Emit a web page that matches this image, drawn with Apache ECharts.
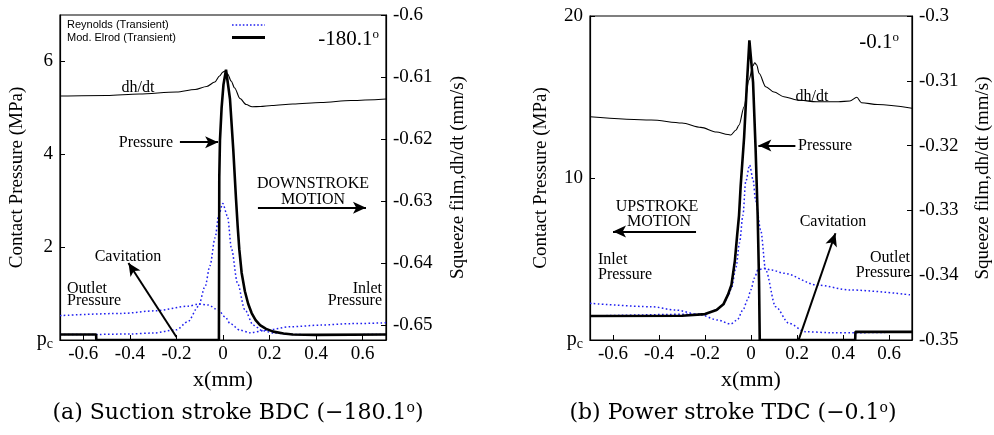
<!DOCTYPE html>
<html><head><meta charset="utf-8">
<script src="https://cdn.jsdelivr.net/npm/echarts@6/dist/echarts.min.js"></script>
<style>html,body{margin:0;padding:0;background:#fff}#c{width:994px;height:435px}</style>
</head><body><div id="c"></div>
<script>
// ---------- tick values ----------
const X_TICKS = [-0.6, -0.4, -0.2, 0, 0.2, 0.4, 0.6];
const BDC_P_TICKS = [0, 2, 4, 6];
const BDC_R_TICKS = [-0.6, -0.61, -0.62, -0.63, -0.64, -0.65];
const TDC_P_TICKS = [0, 10, 20];
const TDC_R_TICKS = [-0.3, -0.31, -0.32, -0.33, -0.34, -0.35];

// ---------- (a) Suction stroke BDC ----------
const bdcElrodPX = [-0.7, -0.545, -0.544, -0.0175, -0.016, -0.013, -0.006, 0.002, 0.013, 0.03, 0.044, 0.056, 0.063, 0.07, 0.08, 0.094, 0.108, 0.123, 0.14, 0.159, 0.185, 0.216, 0.26, 0.3, 0.4, 0.7];
const bdcElrodPY = [0.12, 0.12, 0, 0, 3.5, 4.3, 5.0, 5.5, 5.82, 5.19, 4.11, 3.03, 2.45, 1.95, 1.45, 1.05, 0.78, 0.58, 0.43, 0.32, 0.24, 0.18, 0.14, 0.12, 0.11, 0.12];
const bdcReyPX = [-0.7, -0.54, -0.4, -0.3, -0.2, -0.15, -0.106, -0.077, -0.056, -0.034, -0.018, -0.001, 0.019, 0.037, 0.062, 0.094, 0.13, 0.17, 0.22, 0.3, 0.4, 0.7];
const bdcReyPY = [0.12, 0.12, 0.13, 0.15, 0.22, 0.4, 0.72, 1.15, 1.6, 2.2, 2.7, 2.94, 2.67, 1.95, 1.23, 0.65, 0.32, 0.2, 0.15, 0.12, 0.11, 0.12];
const bdcElrodDX = [-0.7, -0.5, -0.36, -0.2, -0.12, -0.07, -0.035, -0.015, 0.0, 0.009, 0.02, 0.035, 0.05, 0.073, 0.1, 0.125, 0.16, 0.21, 0.3, 0.42, 0.55, 0.7];
const bdcElrodDY = [-0.61306, -0.61298, -0.61274, -0.61242, -0.61202, -0.61153, -0.61081, -0.60984, -0.60919, -0.60903, -0.60952, -0.61065, -0.61177, -0.61347, -0.61444, -0.61479, -0.61476, -0.6146, -0.61435, -0.61411, -0.61379, -0.61355];
const bdcReyDX = [-0.7, -0.435, -0.29, -0.149, -0.106, -0.063, -0.02, 0.01, 0.03, 0.073, 0.116, 0.188, 0.29, 0.42, 0.55, 0.7];
const bdcReyDY = [-0.64847, -0.64811, -0.64769, -0.64694, -0.64661, -0.64677, -0.64758, -0.64871, -0.64973, -0.65081, -0.65124, -0.65081, -0.65027, -0.65, -0.64976, -0.64963];

// ---------- (b) Power stroke TDC ----------
const tdcElrodPX = [-0.7, -0.3, -0.2, -0.15, -0.12, -0.1, -0.085, -0.07, -0.06, -0.052, -0.045, -0.03, -0.019, -0.007, 0.009, 0.02, 0.029, 0.035, 0.038, 0.453, 0.454, 0.7];
const tdcElrodPY = [1.48, 1.5, 1.6, 1.85, 2.2, 2.8, 3.4, 4.9, 6.5, 7.7, 9.5, 12.5, 15.5, 18.5, 15.9, 11.8, 7.7, 3.6, 0, 0, 0.5, 0.5];
const tdcReyPX = [-0.7, -0.2, -0.15, -0.12, -0.1, -0.085, -0.065, -0.05, -0.035, -0.023, -0.006, 0.009, 0.02, 0.042, 0.064, 0.107, 0.165, 0.237, 0.35, 0.45, 0.7];
const tdcReyPY = [1.48, 1.6, 1.85, 2.2, 2.7, 3.2, 4.5, 6.0, 7.7, 9.77, 10.8, 9.9, 8.6, 6.8, 4.3, 2.06, 1.03, 0.51, 0.45, 0.45, 0.5];
const tdcElrodDX = [-0.7, -0.434, -0.3, -0.218, -0.15, -0.1, -0.088, -0.065, -0.052, -0.03, -0.009, 0.008, 0.016, 0.025, 0.035, 0.064, 0.1, 0.143, 0.2, 0.287, 0.38, 0.43, 0.46, 0.48, 0.55, 0.7];
const tdcElrodDY = [-0.31554, -0.31605, -0.31651, -0.31718, -0.3179, -0.31829, -0.31836, -0.31759, -0.31682, -0.314, -0.30988, -0.30772, -0.30721, -0.30756, -0.30884, -0.31091, -0.31173, -0.31245, -0.31296, -0.31323, -0.31323, -0.31312, -0.31255, -0.31338, -0.31366, -0.31424];
const tdcReyDX = [-0.7, -0.434, -0.33, -0.218, -0.146, -0.088, -0.06, -0.035, -0.015, -0.001, 0.015, 0.03, 0.056, 0.09, 0.143, 0.287, 0.431, 0.7];
const tdcReyDY = [-0.34434, -0.34486, -0.34537, -0.34614, -0.34691, -0.34753, -0.34691, -0.34537, -0.34383, -0.34228, -0.34043, -0.3392, -0.33894, -0.3392, -0.33971, -0.34151, -0.34228, -0.34306];

// ---------- annotation arrows (data coordinates: x, pressure) ----------
const bdcArrows = [
  [[-0.185, 4.26], [-0.021, 4.26]],
  [[0.15, 2.85], [0.614, 2.85]],
  [[-0.2, 0.065], [-0.406, 1.66]]
];
const tdcArrows = [
  [[0.193, 12.0], [0.032, 12.0]],
  [[-0.239, 6.69], [-0.6, 6.69]],
  [[0.208, 0.04], [0.367, 6.59]]
];

const SERIF = '"Liberation Serif", "Times New Roman", serif';
const zip = (xs, ys) => xs.map((x, i) => [x, ys[i]]);
const BLUE = '#1f1ff0';

function mkX(gi) {
  return {
    gridIndex: gi, type: 'value', min: -0.7, max: 0.7,
    name: 'x(mm)', nameLocation: 'middle', nameGap: 28,
    nameTextStyle: { fontFamily: SERIF, fontSize: 22, color: '#000' },
    axisLine: { show: true, onZero: false, lineStyle: { color: '#000', width: 1.2 } },
    axisTick: { show: true, inside: true, length: 5, customValues: X_TICKS, lineStyle: { color: '#000' } },
    axisLabel: { customValues: X_TICKS, formatter: v => String(Math.round(v * 10) / 10), fontFamily: SERIF, fontSize: 19, color: '#000', margin: 5 },
    splitLine: { show: false }
  };
}
function mkY(gi, pos, min, max, ticks, fmt, name, nameGap) {
  return {
    gridIndex: gi, type: 'value', position: pos, min: min, max: max,
    name: name, nameLocation: 'middle', nameGap: nameGap, nameRotate: 90,
    nameTextStyle: { fontFamily: SERIF, fontSize: 19, color: '#000' },
    axisLine: { show: true, onZero: false, lineStyle: { color: '#000', width: 1.2 } },
    axisTick: { show: true, inside: true, length: 5, customValues: ticks, lineStyle: { color: '#000' } },
    axisLabel: {
      customValues: ticks, formatter: fmt, fontFamily: SERIF, fontSize: 19, color: '#000', margin: 7,
      rich: {
        p: { fontFamily: SERIF, fontSize: 20, color: '#000' },
        c: { fontFamily: SERIF, fontSize: 14, color: '#000', verticalAlign: 'bottom', padding: [8, 0, 0, 0] }
      }
    },
    splitLine: { show: false }
  };
}
const pFmt = v => (v === 0 ? '{p|p}{c|c}' : String(v));
const rFmt = v => String(Math.round(v * 100) / 100);

function arrowLine(list) {
  return {
    silent: true, animation: false, symbol: ['none', 'arrow'], symbolSize: [9, 13],
    lineStyle: { color: '#000', width: 2, type: 'solid' }, label: { show: false },
    emphasis: { disabled: true },
    data: list.map(a => [{ coord: a[0] }, { coord: a[1] }])
  };
}
function reyLine(xi, yi, data) {
  return { type: 'line', xAxisIndex: xi, yAxisIndex: yi, data: data, symbol: 'none', smooth: 0.3, smoothMonotone: 'x',
    lineStyle: { color: BLUE, width: 1.5, type: [1.6, 2.4] }, z: 2, silent: true };
}
function dhLine(xi, yi, data) {
  return { type: 'line', xAxisIndex: xi, yAxisIndex: yi, data: data, symbol: 'none', smooth: 0.3, smoothMonotone: 'x',
    lineStyle: { color: '#000', width: 1.1 }, z: 3, silent: true };
}
function elrodP(xi, yi, data, arrows) {
  return { type: 'line', xAxisIndex: xi, yAxisIndex: yi, data: data, symbol: 'none',
    lineStyle: { color: '#000', width: 2.6 }, z: 4, silent: true, markLine: arrowLine(arrows) };
}

function txt(x, y, text, size, align, fam) {
  return {
    type: 'text', x: x, y: y, silent: true, z: 100,
    style: { text: text, fontFamily: fam || SERIF, fontSize: size, fill: '#000', align: align || 'center', verticalAlign: 'middle' }
  };
}
function supTxt(x, y, main, size, align, fam, tail) {
  return {
    type: 'text', x: x, y: y, silent: true, z: 100,
    style: {
      text: '{a|' + main + '}{s|o}' + (tail ? '{a|' + tail + '}' : ''), align: align, verticalAlign: 'middle', fill: '#000',
      rich: {
        a: { fontFamily: fam || SERIF, fontSize: size, fill: '#000' },
        s: { fontFamily: fam || SERIF, fontSize: Math.round(size * 0.62), fill: '#000', verticalAlign: 'top', padding: [0, 0, Math.round(size * 0.45), 0] }
      }
    }
  };
}
const SANS = '"Liberation Sans", Arial, sans-serif';
const CAP = '"DejaVu Serif", serif';

const graphics = [
  // legend (left panel)
  txt(67, 25, 'Reynolds (Transient)', 11, 'left', SANS),
  txt(67, 37.5, 'Mod. Elrod (Transient)', 11, 'left', SANS),
  { type: 'line', silent: true, z: 100, shape: { x1: 232, y1: 25, x2: 265, y2: 25 }, style: { stroke: BLUE, lineWidth: 1.5, lineDash: [1.6, 2] } },
  { type: 'line', silent: true, z: 100, shape: { x1: 232, y1: 37.5, x2: 265, y2: 37.5 }, style: { stroke: '#000', lineWidth: 3 } },
  supTxt(379, 39, '-180.1', 21, 'right'),
  txt(138, 88, 'dh/dt', 16),
  txt(173, 143, 'Pressure', 16, 'right'),
  txt(313, 184, 'DOWNSTROKE', 16),
  txt(313, 200, 'MOTION', 16),
  txt(128, 257, 'Cavitation', 16),
  txt(67, 289, 'Outlet', 16, 'left'),
  txt(67, 301, 'Pressure', 16, 'left'),
  txt(382, 289, 'Inlet', 16, 'right'),
  txt(382, 301, 'Pressure', 16, 'right'),
  // right panel
  supTxt(899, 42, '-0.1', 21, 'right'),
  txt(812, 97, 'dh/dt', 16),
  txt(798, 146, 'Pressure', 16, 'left'),
  txt(657, 207, 'UPSTROKE', 16),
  txt(659, 222, 'MOTION', 16),
  txt(833, 222, 'Cavitation', 16),
  txt(598, 260, 'Inlet', 16, 'left'),
  txt(598, 275, 'Pressure', 16, 'left'),
  txt(910, 258, 'Outlet', 16, 'right'),
  txt(910, 273, 'Pressure', 16, 'right'),
  // captions
  supTxt(238, 413, '(a) Suction stroke BDC (−180.1', 22, 'center', CAP, ')'),
  supTxt(733, 413, '(b) Power stroke TDC (−0.1', 22, 'center', CAP, ')')
];

const option = {
  animation: false,
  backgroundColor: '#fff',
  textStyle: { fontFamily: SERIF, color: '#000' },
  grid: [
    { left: 60, right: 608, top: 15, bottom: 95, show: true, borderColor: '#000', borderWidth: 1.2, backgroundColor: 'transparent' },
    { left: 590, right: 80, top: 16, bottom: 95, show: true, borderColor: '#000', borderWidth: 1.2, backgroundColor: 'transparent' }
  ],
  xAxis: [mkX(0), mkX(1)],
  yAxis: [
    mkY(0, 'left', 0, 7, BDC_P_TICKS, pFmt, 'Contact Pressure (MPa)', 33),
    mkY(0, 'right', -0.6524, -0.6, BDC_R_TICKS, rFmt, 'Squeeze film,dh/dt (mm/s)', 63),
    mkY(1, 'left', 0, 20, TDC_P_TICKS, pFmt, 'Contact Pressure (MPa)', 39),
    mkY(1, 'right', -0.35, -0.3, TDC_R_TICKS, rFmt, 'Squeeze film,dh/dt (mm/s)', 62)
  ],
  series: [
    reyLine(0, 0, zip(bdcReyPX, bdcReyPY)),
    reyLine(0, 1, zip(bdcReyDX, bdcReyDY)),
    dhLine(0, 1, zip(bdcElrodDX, bdcElrodDY)),
    elrodP(0, 0, zip(bdcElrodPX, bdcElrodPY), bdcArrows),
    reyLine(1, 2, zip(tdcReyPX, tdcReyPY)),
    reyLine(1, 3, zip(tdcReyDX, tdcReyDY)),
    dhLine(1, 3, zip(tdcElrodDX, tdcElrodDY)),
    elrodP(1, 2, zip(tdcElrodPX, tdcElrodPY), tdcArrows)
  ],
  graphic: graphics
};
const chart = echarts.init(document.getElementById('c'), null, { renderer: 'canvas' });
chart.setOption(option);
</script></body></html>
